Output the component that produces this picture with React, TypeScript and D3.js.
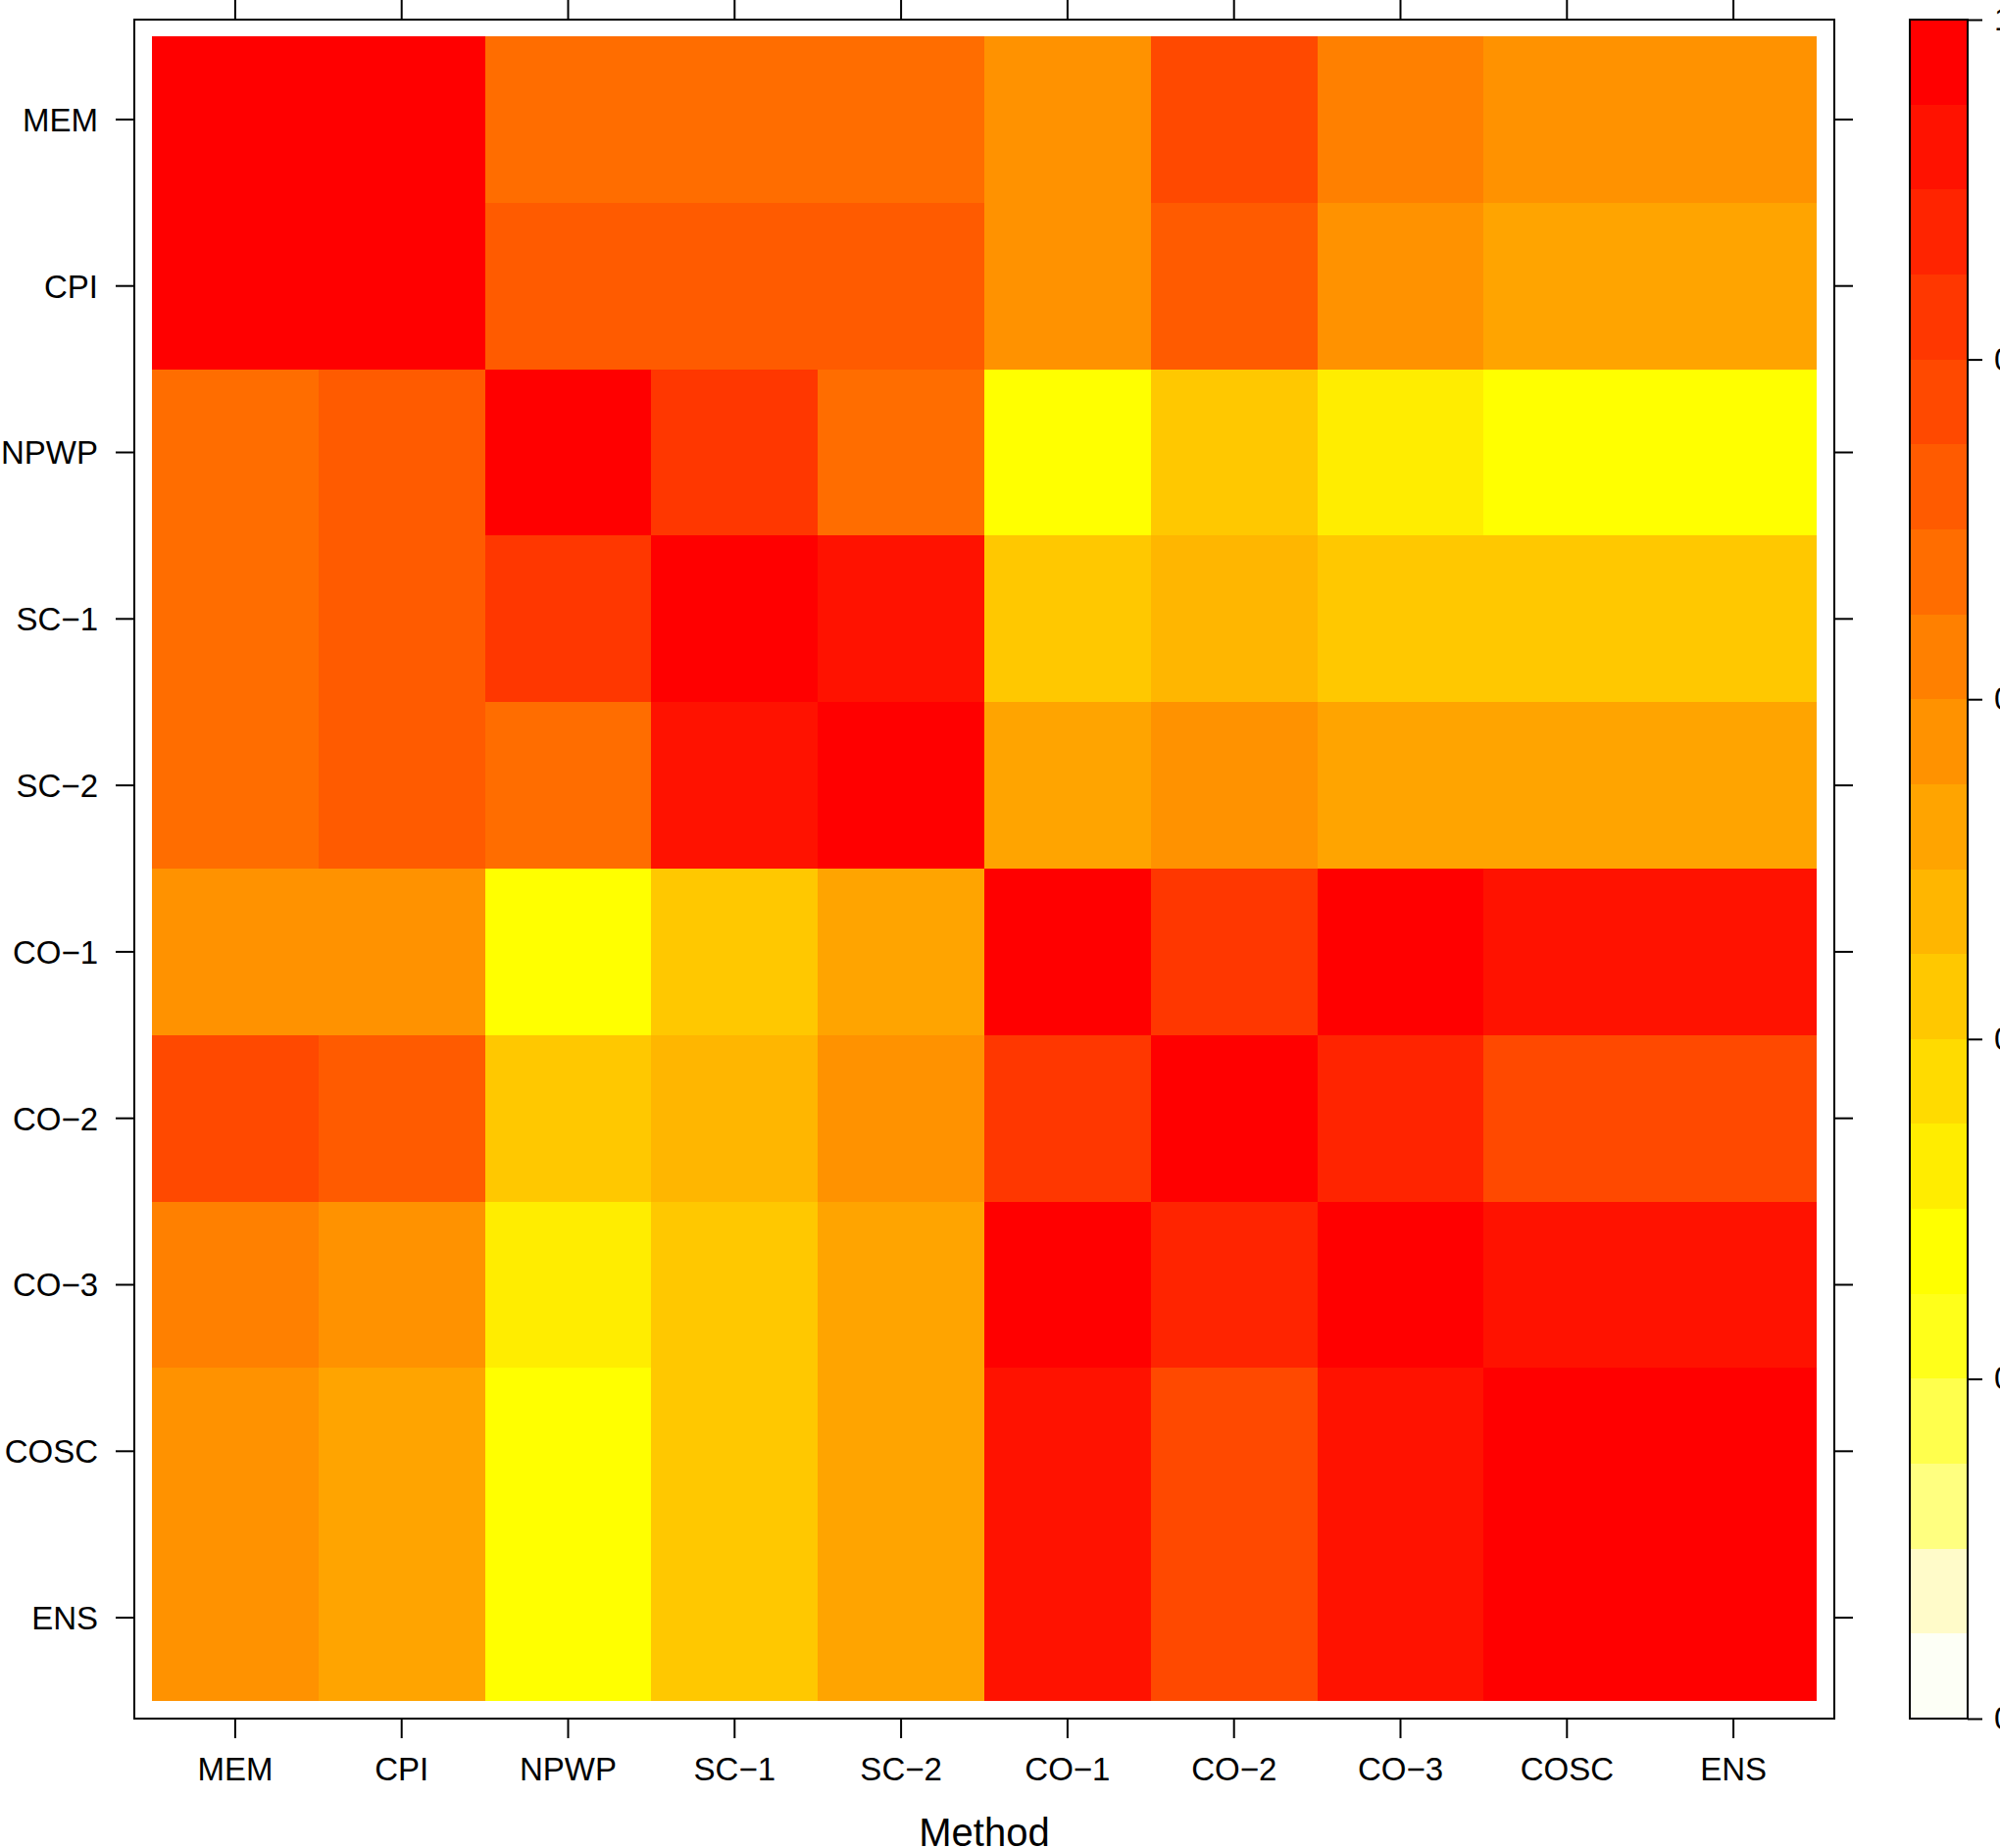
import React, { useEffect, useRef } from "react";
import * as d3 from "d3";

// methods, top-to-bottom on y and left-to-right on x
const methods = ["MEM", "CPI", "NPWP", "SC\u22121", "SC\u22122", "CO\u22121", "CO\u22122", "CO\u22123", "COSC", "ENS"];

// one row per method (same column order as methods)
const memRow = [1.0, 0.97, 0.68, 0.68, 0.68, 0.58, 0.78, 0.63, 0.58, 0.58];
const cpiRow = [0.97, 1.0, 0.73, 0.73, 0.73, 0.58, 0.73, 0.58, 0.53, 0.53];
const npwpRow = [0.68, 0.73, 1.0, 0.83, 0.68, 0.28, 0.43, 0.33, 0.28, 0.28];
const sc1Row = [0.68, 0.73, 0.83, 1.0, 0.93, 0.43, 0.48, 0.43, 0.43, 0.43];
const sc2Row = [0.68, 0.73, 0.68, 0.93, 1.0, 0.53, 0.58, 0.53, 0.53, 0.53];
const co1Row = [0.58, 0.58, 0.28, 0.43, 0.53, 1.0, 0.83, 0.97, 0.93, 0.93];
const co2Row = [0.78, 0.73, 0.43, 0.48, 0.58, 0.83, 1.0, 0.88, 0.78, 0.78];
const co3Row = [0.63, 0.58, 0.33, 0.43, 0.53, 0.97, 0.88, 1.0, 0.93, 0.93];
const coscRow = [0.58, 0.53, 0.28, 0.43, 0.53, 0.93, 0.78, 0.93, 1.0, 0.97];
const ensRow = [0.58, 0.53, 0.28, 0.43, 0.53, 0.93, 0.78, 0.93, 0.97, 1.0];

// heat palette, low -> high (20 levels over 0..1)
const palette = [
  "#FDFFF6", "#FFFBC9", "#FFFF80", "#FFFF4D", "#FFFF1A",
  "#FFFF00", "#FFED00", "#FFDB00", "#FFC800", "#FFB600",
  "#FFA400", "#FF9200", "#FF8000", "#FF6D00", "#FF5B00",
  "#FF4900", "#FF3700", "#FF2400", "#FF1200", "#FF0000",
];

const colorTicks = [0, 0.2, 0.4, 0.6, 0.8, 1.0];

const FONT = "'Liberation Sans', Arial, Helvetica, sans-serif";

const App = () => {
  const svgRef = useRef(null);

  useEffect(() => {
    document.body.style.margin = "0";

    const rows = [memRow, cpiRow, npwpRow, sc1Row, sc2Row, co1Row, co2Row, co3Row, coscRow, ensRow];
    const cells = [];
    rows.forEach((row, i) =>
      row.forEach((v, j) => cells.push({ row: methods[i], col: methods[j], value: v }))
    );

    const svg = d3.select(svgRef.current).attr("width", 2040).attr("height", 1885);
    svg.selectAll("*").remove();

    // panel frame
    const frame = { left: 137, top: 20, right: 1871, bottom: 1753 };

    const x = d3.scaleBand().domain(methods).range([155, 1853]).padding(0);
    const y = d3.scaleBand().domain(methods).range([37, 1735]).padding(0);
    const color = d3.scaleQuantize().domain([0, 1]).range(palette);

    svg
      .append("g")
      .attr("shape-rendering", "crispEdges")
      .selectAll("rect")
      .data(cells)
      .enter()
      .append("rect")
      .attr("x", (d) => Math.round(x(d.col)))
      .attr("y", (d) => Math.round(y(d.row)))
      .attr("width", (d) => Math.round(x(d.col) + x.bandwidth()) - Math.round(x(d.col)))
      .attr("height", (d) => Math.round(y(d.row) + y.bandwidth()) - Math.round(y(d.row)))
      .attr("fill", (d) => color(d.value));

    svg
      .append("rect")
      .attr("x", frame.left)
      .attr("y", frame.top)
      .attr("width", frame.right - frame.left)
      .attr("height", frame.bottom - frame.top)
      .attr("fill", "none")
      .attr("stroke", "black")
      .attr("stroke-width", 2);

    const styleAxis = (g) => {
      g.select(".domain").remove();
      g.selectAll("line").attr("stroke", "black").attr("stroke-width", 2);
      g.selectAll("text").attr("fill", "black").attr("font-family", FONT).attr("font-size", 33);
    };

    svg
      .append("g")
      .attr("transform", `translate(${frame.left},0)`)
      .call(d3.axisLeft(y).tickSize(19).tickPadding(18))
      .call(styleAxis)
      .selectAll("text")
      .attr("dy", "0.36em");

    svg
      .append("g")
      .attr("transform", `translate(0,${frame.bottom})`)
      .call(d3.axisBottom(x).tickSize(20).tickPadding(20))
      .call(styleAxis);

    svg
      .append("g")
      .attr("transform", `translate(0,${frame.top})`)
      .call(d3.axisTop(x).tickSize(20).tickFormat(() => ""))
      .call(styleAxis);

    svg
      .append("g")
      .attr("transform", `translate(${frame.right},0)`)
      .call(d3.axisRight(y).tickSize(19).tickFormat(() => ""))
      .call(styleAxis);

    svg
      .append("text")
      .attr("x", (155 + 1853) / 2)
      .attr("y", 1883)
      .attr("text-anchor", "middle")
      .attr("font-family", FONT)
      .attr("font-size", 40)
      .text("Method");

    // colour key
    const key = { left: 1948, right: 2007 };
    const ky = d3.scaleLinear().domain([0, 1]).range([frame.bottom, frame.top]);

    svg
      .append("g")
      .attr("shape-rendering", "crispEdges")
      .selectAll("rect")
      .data(palette)
      .enter()
      .append("rect")
      .attr("x", key.left)
      .attr("width", key.right - key.left)
      .attr("y", (c) => Math.round(ky(color.invertExtent(c)[1])))
      .attr("height", (c) => Math.round(ky(color.invertExtent(c)[0])) - Math.round(ky(color.invertExtent(c)[1])))
      .attr("fill", (c) => c);

    svg
      .append("rect")
      .attr("x", key.left)
      .attr("y", frame.top)
      .attr("width", key.right - key.left)
      .attr("height", frame.bottom - frame.top)
      .attr("fill", "none")
      .attr("stroke", "black")
      .attr("stroke-width", 2);

    svg
      .append("g")
      .attr("transform", `translate(${key.right},0)`)
      .call(d3.axisRight(ky).tickValues(colorTicks).tickSize(15).tickPadding(12).tickFormat(d3.format(".1f")))
      .call(styleAxis);
  }, []);

  return (
    <div style={{ position: "relative" }}>
      <svg ref={svgRef} style={{ display: "block" }}></svg>
    </div>
  );
};

export default App;
